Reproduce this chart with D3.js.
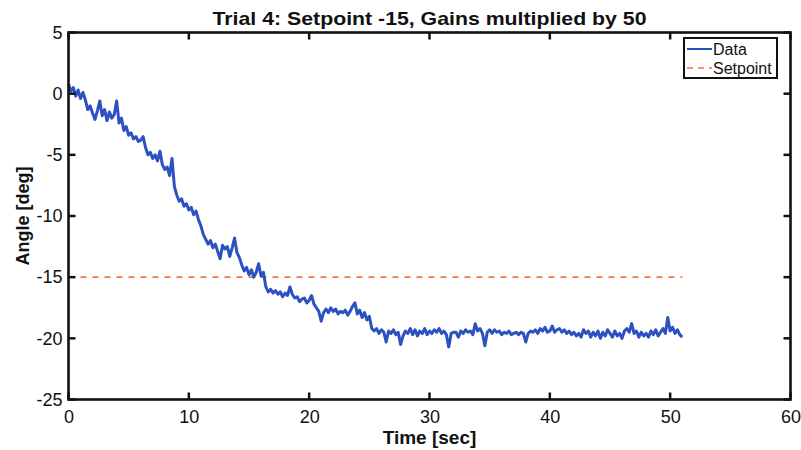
<!DOCTYPE html>
<html>
<head>
<meta charset="utf-8">
<script src="https://cdn.jsdelivr.net/npm/d3@7"></script>
<style>
  html, body { margin: 0; padding: 0; background: #fff; }
  svg { display: block; }
</style>
</head>
<body>
<svg id="chart" width="801" height="450"></svg>
<script>
// Measured angle, sampled every 0.2 s starting at t = 0
const sampleStart = 0;
const sampleStep = 0.2;
const angle = [
  0.8, 0.2, 0.5, -0.2, 0.3, -0.4, 0.1, -0.5, -1.3, -1.0,
  -1.6, -2.1, -1.4, -0.6, -1.8, -1.3, -2.2, -1.5, -2.0, -1.7,
  -0.6, -2.4, -2.0, -3.0, -2.7, -3.4, -3.2, -3.7, -3.5, -3.9,
  -3.8, -3.5, -4.4, -5.0, -4.8, -5.3, -5.0, -5.5, -4.7, -5.8,
  -6.2, -6.0, -6.7, -5.3, -7.6, -8.3, -8.8, -8.6, -9.2, -9.0,
  -9.5, -9.3, -9.9, -9.6, -10.3, -10.8, -11.5, -11.9, -12.3, -12.0,
  -12.6, -12.3, -12.9, -13.5, -12.4, -12.7, -12.5, -13.3, -12.6, -11.8,
  -13.0, -13.4, -14.0, -14.5, -14.2, -14.8, -14.4, -15.0, -14.6, -13.9,
  -14.9, -14.6, -15.8, -16.2, -16.0, -16.3, -16.1, -16.4, -16.2, -16.6,
  -16.3, -16.5, -15.8, -16.4, -16.7, -16.6, -17.0, -16.8, -16.7, -17.1,
  -16.9, -16.5, -17.2, -17.5, -17.8, -18.6, -17.9, -17.6, -17.9, -17.5,
  -17.8, -17.6, -18.0, -17.8, -17.9, -17.7, -18.1, -17.8, -17.4, -17.1,
  -18.0, -17.7, -18.3, -17.9, -18.5, -18.2, -19.2, -19.4, -19.2, -19.6,
  -19.3, -19.5, -20.3, -19.4, -19.6, -19.3, -19.7, -19.5, -20.5, -19.8,
  -19.4, -19.6, -19.2, -19.7, -19.3, -19.8, -19.4, -19.6, -19.2, -19.7,
  -19.4, -19.6, -19.3, -19.5, -19.2, -19.6, -19.4, -19.7, -20.7, -19.6,
  -19.5, -19.5, -19.9, -19.4, -19.6, -19.3, -19.5, -19.4, -19.7, -18.8,
  -19.4, -19.2, -19.6, -20.6, -19.5, -19.3, -19.6, -19.3, -19.5, -19.4,
  -19.7, -19.5, -19.6, -19.4, -19.7, -19.6, -19.5, -19.7, -19.5, -19.6,
  -20.3, -19.6, -19.4, -19.5, -19.3, -19.6, -19.2, -19.4, -19.1, -19.5,
  -19.4, -19.0, -19.5, -19.3, -19.2, -19.5, -19.3, -19.6, -19.4, -19.7,
  -19.5, -19.8, -19.6, -19.9, -19.3, -19.6, -19.4, -19.9, -19.5, -19.8,
  -19.4, -20.0, -19.5, -19.8, -19.3, -19.6, -19.9, -19.4, -19.8, -19.6,
  -20.0, -19.4, -19.2, -19.5, -18.8, -19.6, -19.4, -19.9, -19.5, -19.8,
  -19.6, -19.9, -19.4, -19.7, -19.3, -19.8, -19.5, -19.2, -19.6, -18.3,
  -19.4, -19.1, -19.6, -19.3, -19.7, -19.9
];

const setpoint = -15;
const setpointSpan = [0, 51];

const xTicks = [0, 10, 20, 30, 40, 50, 60];
const yTicks = [5, 0, -5, -10, -15, -20, -25];

const titleText = "Trial 4: Setpoint -15, Gains multiplied by 50";
const xLabel = "Time [sec]";
const yLabel = "Angle [deg]";
const legendLabels = ["Data", "Setpoint"];

const dataColor = "#2c52c2";
const setColor = "#ec7a3c";
const ink = "#111111";
const fontFamily = "'Liberation Sans', Arial, Helvetica, sans-serif";

const svg = d3.select("#chart");
const plot = { left: 68.5, right: 790.5, top: 32.5, bottom: 399.5 };

const x = d3.scaleLinear().domain([0, 60]).range([plot.left, plot.right]);
const y = d3.scaleLinear().domain([-25, 5]).range([plot.bottom, plot.top]);

const series = angle.map((v, i) => ({ t: sampleStart + i * sampleStep, v }));

// Setpoint reference (dashed)
svg.append("line")
  .attr("x1", x(setpointSpan[0])).attr("x2", x(setpointSpan[1]))
  .attr("y1", y(setpoint)).attr("y2", y(setpoint))
  .attr("stroke", setColor).attr("stroke-width", 1.6)
  .attr("stroke-dasharray", "6,6");

// Measured response
svg.append("path")
  .datum(series)
  .attr("fill", "none")
  .attr("stroke", dataColor)
  .attr("stroke-width", 3)
  .attr("stroke-linejoin", "round")
  .attr("d", d3.line().x(d => x(d.t)).y(d => y(d.v)));

// Tick labels through d3 axes (tick marks drawn below as explicit lines)
const tickLen = 7;
const axisBottom = d3.axisBottom(x).tickValues(xTicks).tickSize(0).tickPadding(11).tickFormat(d => String(d));
const axisLeft = d3.axisLeft(y).tickValues(yTicks).tickSize(0).tickPadding(6).tickFormat(d => String(d));

function styleAxis(g) {
  g.attr("font-size", null).attr("font-family", null);
  g.select(".domain").remove();
  g.selectAll(".tick line").remove();
  g.selectAll(".tick text")
    .style("font-size", "18px")
    .style("font-family", fontFamily)
    .style("fill", ink);
}

svg.append("g").attr("transform", `translate(0,${plot.bottom})`).call(axisBottom).call(styleAxis);
svg.append("g").attr("transform", `translate(${plot.left},0)`).call(axisLeft).call(styleAxis);

// Inward tick marks on all four sides
const tickG = svg.append("g").attr("stroke", ink).attr("stroke-width", 2.5);
xTicks.forEach(t => {
  tickG.append("line").attr("x1", x(t)).attr("x2", x(t)).attr("y1", plot.bottom).attr("y2", plot.bottom - tickLen);
  tickG.append("line").attr("x1", x(t)).attr("x2", x(t)).attr("y1", plot.top).attr("y2", plot.top + tickLen);
});
yTicks.forEach(v => {
  tickG.append("line").attr("x1", plot.left).attr("x2", plot.left + tickLen).attr("y1", y(v)).attr("y2", y(v));
  tickG.append("line").attr("x1", plot.right).attr("x2", plot.right - tickLen).attr("y1", y(v)).attr("y2", y(v));
});

// Plot frame
svg.append("rect")
  .attr("x", plot.left).attr("y", plot.top)
  .attr("width", plot.right - plot.left).attr("height", plot.bottom - plot.top)
  .attr("fill", "none").attr("stroke", ink).attr("stroke-width", 2.6);

// Title and axis labels
svg.append("text")
  .attr("x", (plot.left + plot.right) / 2).attr("y", 25)
  .attr("text-anchor", "middle")
  .style("font-family", fontFamily).style("font-weight", "bold").style("font-size", "19px").style("fill", ink)
  .attr("textLength", 434).attr("lengthAdjust", "spacingAndGlyphs")
  .text(titleText);

svg.append("text")
  .attr("x", (plot.left + plot.right) / 2).attr("y", 444)
  .attr("text-anchor", "middle")
  .style("font-family", fontFamily).style("font-weight", "bold").style("font-size", "19px").style("fill", ink)
  .text(xLabel);

svg.append("text")
  .attr("transform", `translate(29,${(plot.top + plot.bottom) / 2}) rotate(-90)`)
  .attr("text-anchor", "middle")
  .style("font-family", fontFamily).style("font-weight", "bold").style("font-size", "18px").style("fill", ink)
  .text(yLabel);

// Legend
const legend = svg.append("g").attr("transform", "translate(684,38)");
legend.append("rect")
  .attr("width", 93).attr("height", 40)
  .attr("fill", "#fff").attr("stroke", ink).attr("stroke-width", 2);
const legendStyles = [
  { color: dataColor, dash: null, width: 2 },
  { color: setColor, dash: "6,5", width: 1.6 }
];
legendLabels.forEach((label, i) => {
  const cy = 11 + i * 19;
  legend.append("line")
    .attr("x1", 3).attr("x2", 28).attr("y1", cy).attr("y2", cy)
    .attr("stroke", legendStyles[i].color).attr("stroke-width", legendStyles[i].width)
    .attr("stroke-dasharray", legendStyles[i].dash);
  legend.append("text")
    .attr("x", 29).attr("y", cy + 5.5)
    .style("font-family", fontFamily).style("font-size", "16px").style("fill", ink)
    .text(label);
});
</script>
</body>
</html>
